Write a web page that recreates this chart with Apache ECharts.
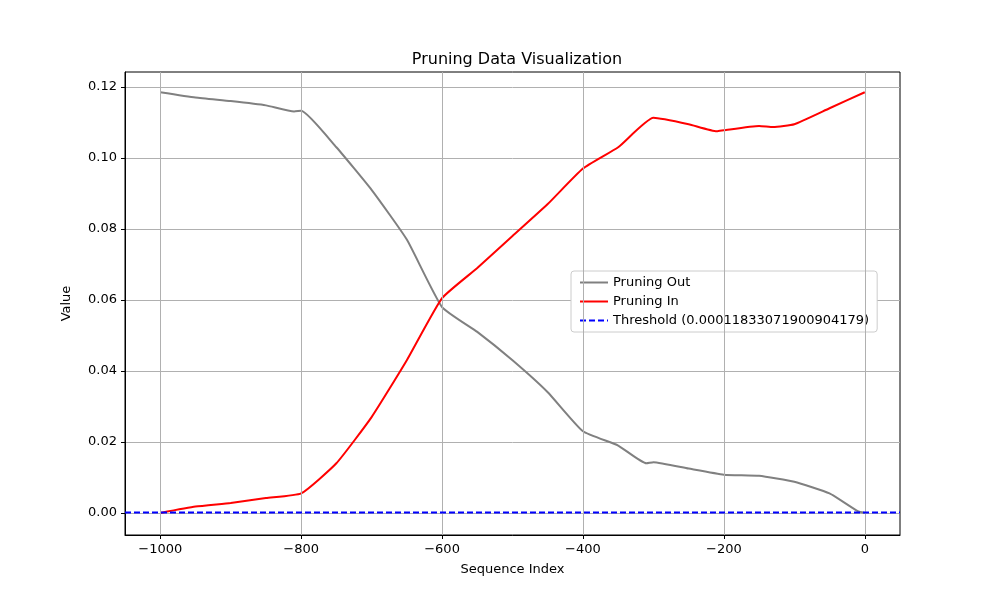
<!DOCTYPE html>
<html>
<head>
<meta charset="utf-8">
<script src="https://cdn.jsdelivr.net/npm/echarts@6/dist/echarts.min.js"></script>
<style>html,body{margin:0;padding:0;background:#fff}#chart{width:1000px;height:600px}</style>
</head>
<body>
<div id="chart"></div>
<script>
// valeurs
const outX = [-1000, -950, -900, -850, -810, -800, -750, -700, -650, -600, -550, -500, -450, -400, -350, -310, -300, -250, -200, -150, -100, -50, -10, 0];
const outValues = [0.1185, 0.117, 0.116, 0.1148, 0.1131, 0.1133, 0.103, 0.091, 0.077, 0.058, 0.051, 0.043, 0.034, 0.023, 0.019, 0.0140, 0.0143, 0.0125, 0.0108, 0.0105, 0.0088, 0.0055, 0.0005, 0.0];
const inX = [-1000, -950, -900, -850, -800, -750, -700, -650, -600, -550, -500, -450, -400, -350, -300, -250, -210, -200, -150, -130, -100, -50, 0];
const inValues = [0.0, 0.0018, 0.0028, 0.0042, 0.0055, 0.014, 0.027, 0.043, 0.0605, 0.069, 0.078, 0.087, 0.097, 0.103, 0.1113, 0.1095, 0.1075, 0.1078, 0.109, 0.1087, 0.1095, 0.114, 0.1185];
const thresholdValue = 0.00011833071900904179;
const thresholdX = [-1050, 50];
const xTicks = [-1000, -800, -600, -400, -200, 0];
const yTicks = [0, 0.02, 0.04, 0.06, 0.08, 0.1, 0.12];

const pair = (xs, ys) => xs.map((x, i) => [x, ys[i]]);

const chart = echarts.init(document.getElementById('chart'));
const font = 'DejaVu Sans';
chart.setOption({
    animation: false,
    textStyle: { fontFamily: font },
    title: {
        text: 'Pruning Data Visualization', left: 512, top: 47, textAlign: 'center',
        textStyle: { fontFamily: font, fontSize: 16, fontWeight: 'normal', color: '#000' }
    },
    grid: { left: 125, right: 100, top: 72, bottom: 65, show: true, borderColor: '#000', borderWidth: 1 },
    legend: {
        orient: 'vertical', left: 571, top: 271, padding: [5, 8],
        backgroundColor: '#fff', borderColor: '#ccc', borderWidth: 1, borderRadius: 3,
        itemWidth: 28, itemHeight: 10, itemGap: 6,
        itemStyle: { opacity: 0 },
        textStyle: { fontFamily: font, fontSize: 13, color: '#000' },
        data: ['Pruning Out', 'Pruning In', 'Threshold (0.00011833071900904179)']
    },
    xAxis: {
        type: 'value', min: -1050, max: 50,
        name: 'Sequence Index', nameLocation: 'middle', nameGap: 28,
        nameTextStyle: { fontFamily: font, fontSize: 13, color: '#000' },
        axisLine: { onZero: false, lineStyle: { color: '#000' } },
        axisTick: { show: true, length: 4, lineStyle: { color: '#000' }, customValues: xTicks },
        axisLabel: { color: '#000', fontSize: 13, customValues: xTicks, formatter: v => v < 0 ? '\u2212' + (-v) : v },
        splitLine: { show: false }
    },
    yAxis: {
        type: 'value', min: -0.0062, max: 0.1242,
        name: 'Value', nameLocation: 'middle', nameGap: 52,
        nameTextStyle: { fontFamily: font, fontSize: 13, color: '#000' },
        axisLine: { show: true, onZero: false, lineStyle: { color: '#000' } },
        axisTick: { show: true, length: 4, lineStyle: { color: '#000' }, customValues: yTicks },
        axisLabel: { color: '#000', fontSize: 13, customValues: yTicks, formatter: v => v.toFixed(2) },
        splitLine: { show: true, lineStyle: { color: '#b0b0b0' } }
    },
    series: [
        {
            name: 'Pruning Out', type: 'line', data: pair(outX, outValues), showSymbol: false, symbol: 'none',
            smooth: 0.15, lineStyle: { color: '#808080', width: 2 }, itemStyle: { color: '#808080' },
            z: 3,
            markLine: {
                silent: true, symbol: 'none', label: { show: false },
                lineStyle: { color: '#b0b0b0', width: 1, type: 'solid' },
                data: xTicks.map(x => ({ xAxis: x }))
            }
        },
        {
            name: 'Pruning In', type: 'line', data: pair(inX, inValues), showSymbol: false, symbol: 'none',
            smooth: 0.15, lineStyle: { color: '#ff0000', width: 2 }, itemStyle: { color: '#ff0000' }, z: 4
        },
        {
            name: 'Threshold (0.00011833071900904179)', type: 'line',
            data: thresholdX.map(x => [x, thresholdValue]), showSymbol: false, symbol: 'none',
            lineStyle: { color: '#0000ff', width: 2, type: [6, 3] }, itemStyle: { color: '#0000ff' }, z: 5
        }
    ]
});
</script>
</body>
</html>
